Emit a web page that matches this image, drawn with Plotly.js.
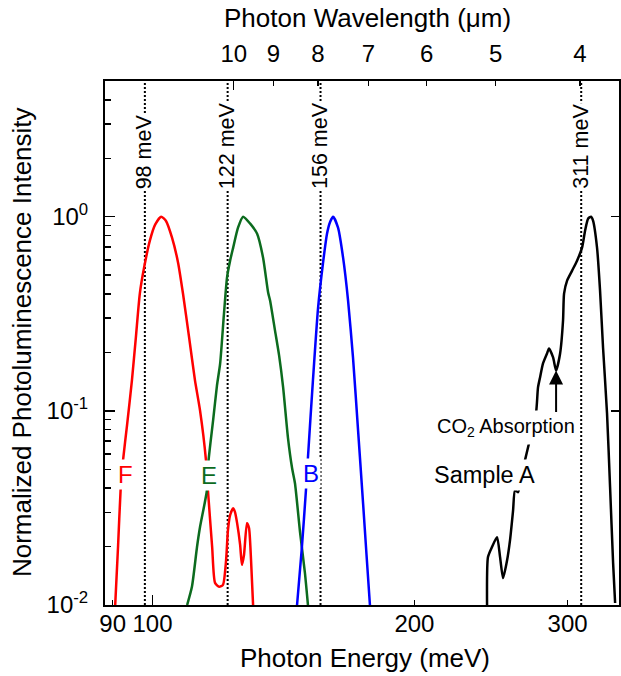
<!DOCTYPE html>
<html>
<head>
<meta charset="utf-8">
<script src="https://cdn.plot.ly/plotly-3.0.1.min.js"></script>
<style>
  html, body { margin: 0; padding: 0; background: #fff; }
  #plot { width: 621px; height: 676px; }
</style>
</head>
<body>
<div id="plot"></div>
<script>
// Photoluminescence spectra, normalized, vs photon energy (meV)
const energyF = [90.6, 91.3, 91.9, 92.5, 93.5, 94.7, 95.7, 96.7, 97.8, 99.3, 100.7, 102.3, 103.6, 105.3, 107.0, 108.4, 110.1, 111.9, 113.4, 115.2, 115.8, 117.1, 118.0, 119.3, 120.5, 121.5, 122.1, 122.8, 123.8, 124.4, 125.1, 126.1, 126.7, 127.4, 128.4, 129.1, 129.8, 130.5];
const intensityF = [0.0100, 0.0203, 0.0390, 0.0557, 0.085, 0.1435, 0.24, 0.402, 0.547, 0.753, 0.910, 1.0, 0.954, 0.780, 0.580, 0.402, 0.244, 0.1435, 0.1006, 0.0557, 0.0390, 0.0199, 0.0130, 0.0124, 0.0127, 0.0170, 0.0243, 0.0290, 0.0315, 0.0301, 0.0264, 0.0204, 0.0161, 0.0181, 0.0264, 0.0249, 0.0170, 0.0100];

const energyE = [109.6, 111.0, 112.5, 113.4, 115.5, 116.0, 117.4, 118.6, 119.6, 120.8, 121.8, 122.8, 123.8, 125.4, 127.1, 129.5, 131.9, 134.0, 135.8, 136.5, 138.3, 139.8, 141.3, 143.1, 144.7, 145.8, 147.8, 149.7, 150.9];
const intensityE = [0.0100, 0.0124, 0.0199, 0.0252, 0.0390, 0.0557, 0.0894, 0.135, 0.175, 0.313, 0.486, 0.594, 0.693, 0.878, 1.0, 0.921, 0.818, 0.615, 0.407, 0.370, 0.259, 0.193, 0.132, 0.0731, 0.0506, 0.0424, 0.0235, 0.0146, 0.0100];

const energyB = [146.6, 148.5, 150.1, 150.9, 152.9, 155.0, 157.0, 158.7, 160.0, 161.3, 163.4, 165.6, 167.8, 170.0, 172.3, 174.6, 176.2, 177.8];
const intensityB = [0.0100, 0.0199, 0.0390, 0.0577, 0.1435, 0.3404, 0.5733, 0.818, 0.94, 1.0, 0.878, 0.615, 0.370, 0.1884, 0.0794, 0.0334, 0.0181, 0.0100];

const energyA = [242.4, 243.0, 245.6, 248.9, 250.9, 252.9, 255.6, 257.6, 259.7, 261.0, 263.1, 268.0, 270.2, 276.0, 277.4, 278.9, 281.1, 284.1, 285.6, 288.7, 291.0, 294.1, 296.4, 297.2, 299.6, 303.6, 307.6, 311.7, 314.2, 316.7, 319.2, 320.9, 324.3, 326.9, 329.5, 333.0, 335.7, 338.4, 340.2];
const intensityA = [0.0100, 0.01765, 0.0199, 0.02236, 0.01765, 0.01376, 0.0170, 0.02159, 0.0308, 0.0390, 0.0381, 0.0557, 0.0649, 0.0983, 0.1320, 0.1487, 0.1754, 0.1975, 0.2096, 0.1884, 0.1615, 0.1975, 0.2919, 0.4018, 0.4688, 0.5278, 0.5939, 0.6928, 0.8472, 0.9766, 1.0, 0.9537, 0.6928, 0.4164, 0.2121, 0.0971, 0.0404, 0.01643, 0.01024];

// Peak energies marked with dotted lines
const peakEnergies = [98, 122, 156, 311];
const peakLabels = ['98 meV', '122 meV', '156 meV', '311 meV'];

// Axis ticks
const energyTicks = [90, 100, 200, 300];
const energyTickText = ['90', '100', '200', '300'];
const wavelengthTicks = [10, 9, 8, 7, 6, 5, 4];   // μm
const intensityTicks = [0.01, 0.1, 1];
const intensityTickText = ['10<sup>-2</sup>', '10<sup>-1</sup>', '10<sup>0</sup>'];
const intensityMinor = [0.02, 0.03, 0.04, 0.05, 0.06, 0.07, 0.08, 0.09,
                        0.2, 0.3, 0.4, 0.5, 0.6, 0.7, 0.8, 0.9, 2, 3, 4];

const HC = 1239.84; // meV·μm
const wavelengthTickEnergies = wavelengthTicks.map(l => HC / l);

const FONT = 'Liberation Sans, Arial, Helvetica, sans-serif';
const xRange = [1.9454, 2.5362];
const yRange = [-2, Math.log10(5)];
const LW = 2.5;

function spectrum(x, y, color) {
  return {
    x: x, y: y, type: 'scatter', mode: 'lines',
    line: { color: color, width: LW, shape: 'spline', smoothing: 0.6 },
    hoverinfo: 'skip', showlegend: false
  };
}

const traces = [];
// dotted markers at peak energies
peakEnergies.forEach(e => {
  traces.push({
    x: [e, e], y: [Math.pow(10, yRange[0]), Math.pow(10, yRange[1])],
    type: 'scatter', mode: 'lines',
    line: { color: 'black', width: 2, dash: '2px,2px' },
    hoverinfo: 'skip', showlegend: false
  });
});
traces.push(spectrum(energyF, intensityF, '#ff0000'));
traces.push(spectrum(energyE, intensityE, '#0c6b1e'));
traces.push(spectrum(energyB, intensityB, '#0000ff'));
traces.push(spectrum(energyA, intensityA, '#000000'));
// empty traces that attach the secondary axes
['x2', 'x3', 'x4'].forEach(ax => {
  traces.push({ x: wavelengthTickEnergies, y: wavelengthTickEnergies.map(() => null),
    xaxis: ax, yaxis: 'y', type: 'scatter', mode: 'lines', hoverinfo: 'skip', showlegend: false });
});
traces.push({ x: energyTicks, y: energyTicks.map(() => null), xaxis: 'x', yaxis: 'y2',
  type: 'scatter', mode: 'lines', hoverinfo: 'skip', showlegend: false });

const baseX = {
  type: 'log', range: xRange, showgrid: false, zeroline: false,
  ticks: 'inside', tickcolor: 'black', tickwidth: 1.5, fixedrange: true
};

const annotations = [];
// peak labels, vertical text over the dotted lines
peakEnergies.forEach((e, i) => {
  annotations.push({
    x: Math.log10(e), xref: 'x', y: 0.792, yref: 'paper',
    xanchor: 'center', yanchor: 'bottom', textangle: -90,
    text: peakLabels[i], showarrow: false, bgcolor: 'white', borderpad: 0,
    font: { family: FONT, size: 21.5, color: 'black' }
  });
});
// series labels
const seriesLabels = [
  { text: 'F', e: 93.2, i: 0.0471, color: '#ff0000' },
  { text: 'E', e: 116.1, i: 0.0466, color: '#0c6b1e' },
  { text: 'B', e: 152.1, i: 0.0477, color: '#0000ff' }
];
seriesLabels.forEach(s => {
  annotations.push({
    x: Math.log10(s.e), y: Math.log10(s.i), xref: 'x', yref: 'y',
    text: s.text, showarrow: false, bgcolor: 'white', borderpad: 1,
    font: { family: FONT, size: 24, color: s.color }
  });
});
annotations.push({
  x: Math.log10(240.5), y: Math.log10(0.0466), xref: 'x', yref: 'y',
  text: 'Sample A', showarrow: false, bgcolor: 'white', borderpad: 2,
  font: { family: FONT, size: 23.5, color: 'black' }
});
annotations.push({
  x: Math.log10(254.9), y: Math.log10(0.0823), xref: 'x', yref: 'y',
  text: 'CO<sub>2</sub> Absorption', showarrow: false, bgcolor: 'white', borderpad: 4,
  font: { family: FONT, size: 20, color: 'black' }
});
// arrow pointing at the CO2 dip
annotations.push({
  x: Math.log10(291.0), y: Math.log10(0.1615), xref: 'x', yref: 'y',
  ax: 0, ay: 43, text: '', showarrow: true,
  arrowhead: 2, arrowsize: 1.4, arrowwidth: 2, arrowcolor: 'black'
});
// axis titles
annotations.push({
  x: 0.51, y: 1.1202, xref: 'paper', yref: 'paper', xanchor: 'center', yanchor: 'middle',
  text: 'Photon Wavelength (μm)', showarrow: false,
  font: { family: FONT, size: 26, color: 'black' }
});
annotations.push({
  x: 0.506, y: -0.1012, xref: 'paper', yref: 'paper', xanchor: 'center', yanchor: 'middle',
  text: 'Photon Energy (meV)', showarrow: false,
  font: { family: FONT, size: 26, color: 'black' }
});
annotations.push({
  x: -0.1612, y: 0.502, xref: 'paper', yref: 'paper', xanchor: 'center', yanchor: 'middle',
  textangle: -90, text: 'Normalized Photoluminescence Intensity', showarrow: false,
  font: { family: FONT, size: 26, color: 'black' }
});

const layout = {
  width: 621, height: 676,
  margin: { l: 105, r: 2, t: 81, b: 71, pad: 0 },
  paper_bgcolor: 'white', plot_bgcolor: 'white',
  font: { family: FONT, size: 24, color: 'black' },
  showlegend: false, hovermode: false,
  xaxis: Object.assign({}, baseX, {
    tickmode: 'array', tickvals: energyTicks, ticktext: energyTickText, ticklen: 5,
    showline: true, linecolor: 'black', linewidth: 2, ticklabelstandoff: -4,
    tickfont: { family: FONT, size: 24, color: 'black' }
  }),
  xaxis2: Object.assign({}, baseX, {
    overlaying: 'x', side: 'top', anchor: 'y',
    tickmode: 'array', tickvals: wavelengthTickEnergies, ticktext: wavelengthTicks.map(String),
    ticklen: 5, showline: true, linecolor: 'black', linewidth: 2, ticklabelstandoff: 7,
    tickfont: { family: FONT, size: 24, color: 'black' }
  }),
  xaxis3: Object.assign({}, baseX, {
    overlaying: 'x', side: 'bottom', anchor: 'y',
    tickmode: 'array', tickvals: [100], ticklen: 10, showticklabels: false, showline: false
  }),
  xaxis4: Object.assign({}, baseX, {
    overlaying: 'x', side: 'top', anchor: 'y',
    tickmode: 'array', tickvals: [HC / 10], ticklen: 9, showticklabels: false, showline: false
  }),
  yaxis: {
    type: 'log', range: yRange, showgrid: false, zeroline: false, fixedrange: true,
    tickmode: 'array', tickvals: intensityTicks, ticktext: intensityTickText,
    ticks: 'inside', ticklen: 10, tickwidth: 1.5, tickcolor: 'black',
    showline: true, linecolor: 'black', linewidth: 2, ticklabelstandoff: 10,
    tickfont: { family: FONT, size: 24, color: 'black' },
    minor: { tickmode: 'array', tickvals: intensityMinor, ticks: 'inside', ticklen: 6,
             tickwidth: 1.5, tickcolor: 'black', showgrid: false }
  },
  yaxis2: {
    type: 'log', range: yRange, overlaying: 'y', side: 'right', anchor: 'x',
    showgrid: false, zeroline: false, fixedrange: true,
    tickmode: 'array', tickvals: intensityTicks, ticks: 'inside', ticklen: 8,
    tickwidth: 1.5, tickcolor: 'black', showticklabels: false,
    showline: true, linecolor: 'black', linewidth: 2
  },
  annotations: annotations
};

Plotly.newPlot('plot', traces, layout, { displayModeBar: false, staticPlot: true });
</script>
</body>
</html>
